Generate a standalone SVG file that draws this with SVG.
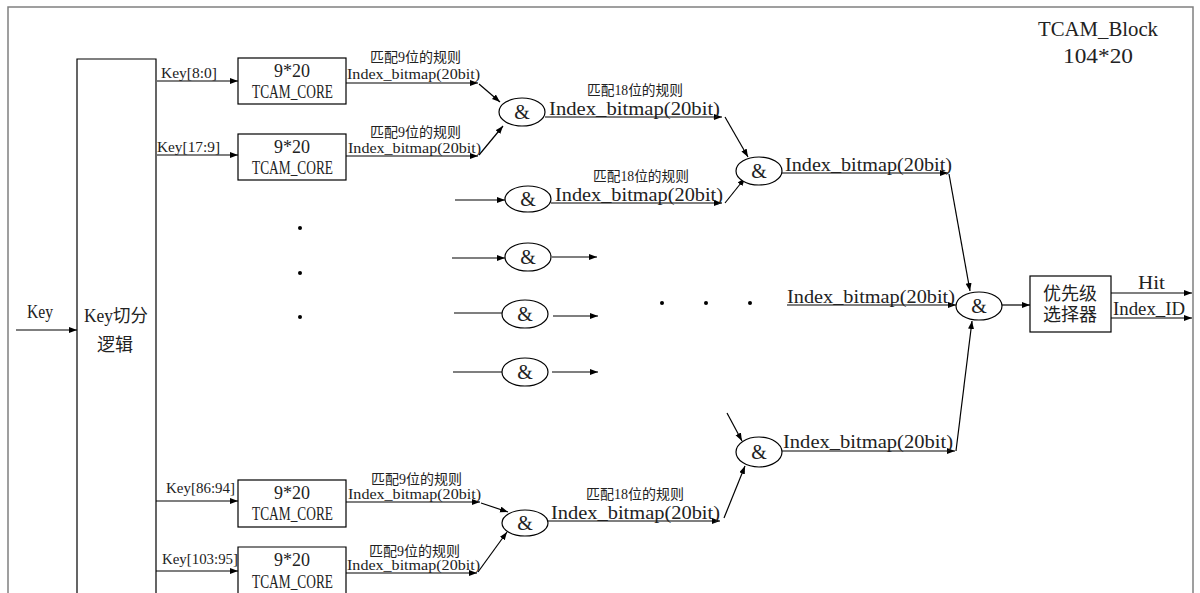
<svg xmlns="http://www.w3.org/2000/svg" width="1200" height="593" viewBox="0 0 1200 593">
<style>
  text { font-family: "Liberation Serif", "Noto Sans CJK SC", serif; fill: #222; }
  .lbl14 { font-size: 14px; }
  .lbl18 { font-size: 18px; }
  .cn { font-size: 14px; }
  .big { font-size: 22px; }
  .box { fill: #fff; stroke: #000; stroke-width: 1.2; }
  .and { fill: #fff; stroke: #000; stroke-width: 1.2; }
  .frame { fill: none; stroke: #808080; stroke-width: 1.5; }
  .c { fill: none; stroke: #000; stroke-width: 1.2; }
  .a { fill: none; stroke: #000; stroke-width: 1.2; marker-end: url(#arr); }
  .amp { font-size: 20px; text-anchor: middle; }
  .mid { text-anchor: middle; }
</style>
<defs>
  <marker id="arr" markerUnits="userSpaceOnUse" markerWidth="9" markerHeight="7" refX="8" refY="3" orient="auto">
    <path d="M0,0 L8,3 L0,6 z" fill="#000"/>
  </marker>
</defs>
<rect width="1200" height="593" fill="#fff"/>

<g id="frame">
  <path class="frame" d="M8,600 L8,7 L1193,7 L1193,600"/>
  <text class="big" x="1038" y="36" textLength="120" lengthAdjust="spacingAndGlyphs">TCAM_Block</text>
  <text class="big" x="1063" y="63" textLength="70" lengthAdjust="spacingAndGlyphs">104*20</text>
</g>

<g id="connectors">
  <path class="a" d="M16,330 L77,330"/>
  <path class="a" d="M157,81 L238,81"/>
  <path class="a" d="M157,155 L238,155"/>
  <path class="a" d="M155,501 L238,501"/>
  <path class="a" d="M155,571 L238,571"/>
  <path class="a" d="M346,83 L478,83"/>
  <path class="a" d="M479,84 L500,102"/>
  <path class="a" d="M346,156 L478,156"/>
  <path class="a" d="M479,155 L503,126"/>
  <path class="a" d="M545,117 L722,117"/>
  <path class="a" d="M725,117 L748,157"/>
  <path class="a" d="M455,200 L505,200"/>
  <path class="a" d="M551,203 L722,203"/>
  <path class="a" d="M725,203 L745,178"/>
  <path class="a" d="M782,173 L948,173"/>
  <path class="a" d="M949,174 L970,291"/>
  <path class="a" d="M452,258 L505,258"/>
  <path class="a" d="M552,257 L597,257"/>
  <path class="c" d="M454,313 L502,313"/>
  <path class="a" d="M553,316 L598,316"/>
  <path class="c" d="M453,372 L502,372"/>
  <path class="a" d="M552,372 L598,372"/>
  <path class="a" d="M787,305 L956,305"/>
  <path class="a" d="M346,502 L480,502"/>
  <path class="a" d="M481,503 L508,512"/>
  <path class="a" d="M346,573 L477,573"/>
  <path class="a" d="M478,572 L507,532"/>
  <path class="a" d="M548,521 L720,521"/>
  <path class="a" d="M724,518 L745,466"/>
  <path class="a" d="M727,413 L742,441"/>
  <path class="a" d="M782,451 L955,451"/>
  <path class="a" d="M956,451 L972,321"/>
  <path class="a" d="M1002,305 L1030,305"/>
  <path class="a" d="M1111,293 L1192,293"/>
  <path class="a" d="M1111,318 L1192,318"/>
</g>

<g id="labels">
  <text class="lbl18" x="27" y="318" textLength="26" lengthAdjust="spacingAndGlyphs">Key</text>
  <text class="lbl14" x="161" y="78" textLength="56" lengthAdjust="spacingAndGlyphs">Key[8:0]</text>
  <text class="lbl14" x="157" y="152" textLength="63" lengthAdjust="spacingAndGlyphs">Key[17:9]</text>
  <text class="lbl14" x="166" y="493" textLength="69" lengthAdjust="spacingAndGlyphs">Key[86:94]</text>
  <text class="lbl14" x="162" y="564" textLength="76" lengthAdjust="spacingAndGlyphs">Key[103:95]</text>

  <text class="cn" x="370" y="62" textLength="91" lengthAdjust="spacingAndGlyphs">匹配9位的规则</text>
  <text class="lbl14" x="347" y="79" textLength="133" lengthAdjust="spacingAndGlyphs">Index_bitmap(20bit)</text>
  <text class="cn" x="370" y="137" textLength="91" lengthAdjust="spacingAndGlyphs">匹配9位的规则</text>
  <text class="lbl14" x="348" y="153" textLength="133" lengthAdjust="spacingAndGlyphs">Index_bitmap(20bit)</text>
  <text class="cn" x="371" y="484" textLength="91" lengthAdjust="spacingAndGlyphs">匹配9位的规则</text>
  <text class="lbl14" x="348" y="499" textLength="133" lengthAdjust="spacingAndGlyphs">Index_bitmap(20bit)</text>
  <text class="cn" x="369" y="556" textLength="91" lengthAdjust="spacingAndGlyphs">匹配9位的规则</text>
  <text class="lbl14" x="347" y="570" textLength="133" lengthAdjust="spacingAndGlyphs">Index_bitmap(20bit)</text>

  <text class="cn" x="587" y="95" textLength="96" lengthAdjust="spacingAndGlyphs">匹配18位的规则</text>
  <text class="lbl18" x="549" y="115" textLength="171" lengthAdjust="spacingAndGlyphs">Index_bitmap(20bit)</text>
  <text class="cn" x="593" y="181" textLength="96" lengthAdjust="spacingAndGlyphs">匹配18位的规则</text>
  <text class="lbl18" x="555" y="201" textLength="168" lengthAdjust="spacingAndGlyphs">Index_bitmap(20bit)</text>
  <text class="cn" x="586" y="499" textLength="98" lengthAdjust="spacingAndGlyphs">匹配18位的规则</text>
  <text class="lbl18" x="551" y="519" textLength="169" lengthAdjust="spacingAndGlyphs">Index_bitmap(20bit)</text>

  <text class="lbl18" x="785" y="171" textLength="167" lengthAdjust="spacingAndGlyphs">Index_bitmap(20bit)</text>
  <text class="lbl18" x="787" y="303" textLength="168" lengthAdjust="spacingAndGlyphs">Index_bitmap(20bit)</text>
  <text class="lbl18" x="783" y="448" textLength="170" lengthAdjust="spacingAndGlyphs">Index_bitmap(20bit)</text>

  <text class="lbl18" x="1138" y="289" textLength="27" lengthAdjust="spacingAndGlyphs">Hit</text>
  <text class="lbl18" x="1113" y="315" textLength="72" lengthAdjust="spacingAndGlyphs">Index_ID</text>
</g>

<g id="dots" fill="#000">
  <circle cx="300" cy="228" r="2"/>
  <circle cx="300" cy="273" r="2"/>
  <circle cx="300" cy="317" r="2"/>
  <circle cx="662" cy="303" r="2"/>
  <circle cx="706" cy="303" r="2"/>
  <circle cx="750" cy="303" r="2"/>
</g>

<g id="key_split">
  <path class="box" d="M77,600 L77,59 L156,59 L156,600"/>
  <text class="lbl18" x="84" y="322" textLength="64" lengthAdjust="spacingAndGlyphs">Key切分</text>
  <text class="lbl18" x="97" y="351" textLength="36" lengthAdjust="spacingAndGlyphs">逻辑</text>
</g>

<g id="core1">
  <rect class="box" x="238" y="58" width="108" height="46"/>
  <text class="lbl18" x="274" y="77" textLength="36" lengthAdjust="spacingAndGlyphs">9*20</text>
  <text class="lbl18" x="252" y="98" textLength="81" lengthAdjust="spacingAndGlyphs">TCAM_CORE</text>
</g>
<g id="core2">
  <rect class="box" x="238" y="134" width="108" height="46"/>
  <text class="lbl18" x="274" y="153" textLength="36" lengthAdjust="spacingAndGlyphs">9*20</text>
  <text class="lbl18" x="252" y="174" textLength="81" lengthAdjust="spacingAndGlyphs">TCAM_CORE</text>
</g>
<g id="core3">
  <rect class="box" x="238" y="480" width="108" height="47"/>
  <text class="lbl18" x="274" y="499" textLength="36" lengthAdjust="spacingAndGlyphs">9*20</text>
  <text class="lbl18" x="252" y="520" textLength="81" lengthAdjust="spacingAndGlyphs">TCAM_CORE</text>
</g>
<g id="core4">
  <path class="box" d="M238,600 L238,547 L346,547 L346,600"/>
  <text class="lbl18" x="274" y="566" textLength="36" lengthAdjust="spacingAndGlyphs">9*20</text>
  <text class="lbl18" x="252" y="588" textLength="81" lengthAdjust="spacingAndGlyphs">TCAM_CORE</text>
</g>

<g id="and1"><ellipse class="and" cx="522" cy="112" rx="23" ry="14"/><text class="amp" x="522" y="119">&amp;</text></g>
<g id="and2"><ellipse class="and" cx="759" cy="171" rx="23" ry="14"/><text class="amp" x="759" y="178">&amp;</text></g>
<g id="and3"><ellipse class="and" cx="528" cy="199" rx="23" ry="13"/><text class="amp" x="528" y="206">&amp;</text></g>
<g id="and4"><ellipse class="and" cx="528" cy="257" rx="23" ry="14"/><text class="amp" x="528" y="264">&amp;</text></g>
<g id="and5"><ellipse class="and" cx="525" cy="314" rx="23" ry="14"/><text class="amp" x="525" y="321">&amp;</text></g>
<g id="and6"><ellipse class="and" cx="525" cy="372" rx="23" ry="14"/><text class="amp" x="525" y="379">&amp;</text></g>
<g id="and7"><ellipse class="and" cx="525" cy="523" rx="23" ry="13"/><text class="amp" x="525" y="530">&amp;</text></g>
<g id="and8"><ellipse class="and" cx="759" cy="452" rx="23" ry="15"/><text class="amp" x="759" y="459">&amp;</text></g>
<g id="and9"><ellipse class="and" cx="979" cy="306" rx="23" ry="14"/><text class="amp" x="979" y="313">&amp;</text></g>

<g id="priority">
  <rect class="box" x="1030" y="276" width="81" height="56"/>
  <text class="lbl18 mid" x="1070" y="300">优先级</text>
  <text class="lbl18 mid" x="1070" y="321">选择器</text>
</g>
</svg>
